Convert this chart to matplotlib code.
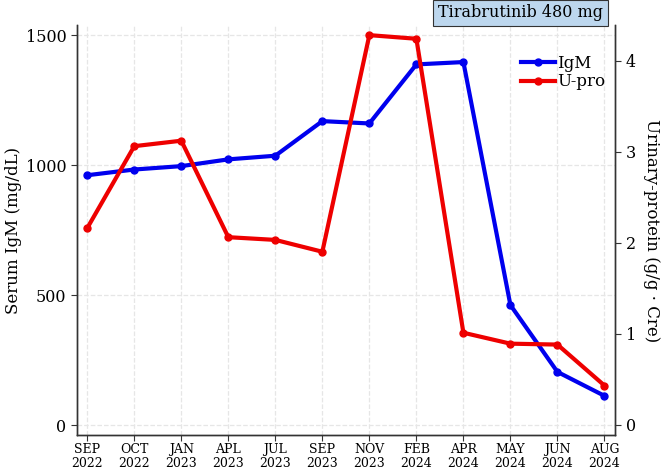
import matplotlib
matplotlib.use('Agg')
import matplotlib.pyplot as plt

plt.rcParams['font.family'] = ['DejaVu Serif']

# Данные с графика
months = ['SEP\n2022', 'OCT\n2022', 'JAN\n2023', 'APL\n2023', 'JUL\n2023', 'SEP\n2023',
          'NOV\n2023', 'FEB\n2024', 'APR\n2024', 'MAY\n2024', 'JUN\n2024', 'AUG\n2024']
igm = [961, 983, 996, 1022, 1036, 1169, 1160, 1387, 1396, 462, 205, 113]
upro = [2.16, 3.06, 3.12, 2.06, 2.03, 1.90, 4.28, 4.24, 1.01, 0.89, 0.88, 0.43]

x = list(range(len(months)))

fig = plt.figure(figsize=(6.63, 4.74), dpi=100)
ax = fig.add_axes([0.116, 0.082, 0.812, 0.865])
ax2 = ax.twinx()

l1, = ax.plot(x, igm, color='#0000ee', linewidth=3, marker='o', markersize=5, label='IgM', zorder=3)
l2, = ax2.plot(x, upro, color='#ee0000', linewidth=3, marker='o', markersize=5, label='U-pro', zorder=3)

ax.set_xlim(-0.22, 11.23)
ax.set_ylim(-38, 1538)
ax2.set_ylim(-0.115, 4.39)
ax.set_xticks(x)
ax.set_xticklabels(months, fontsize=9, linespacing=1.05)
ax.set_yticks([0, 500, 1000, 1500])
ax2.set_yticks([0, 1, 2, 3, 4])
ax.tick_params(axis='y', labelsize=11.5, length=4, color='#333333')
ax2.tick_params(axis='y', labelsize=11.5, length=4, color='#333333')
ax.tick_params(axis='x', length=4, color='#333333', pad=2)

ax.grid(True, linestyle='--', color='#e6e6e6', linewidth=0.9)
ax.set_axisbelow(True)

for a in (ax, ax2):
    a.spines['top'].set_visible(False)
    for s in ('left', 'right', 'bottom'):
        a.spines[s].set_color('#333333')
        a.spines[s].set_linewidth(1.0)

ax.set_ylabel('Serum IgM (mg/dL)', fontsize=12, labelpad=3)
ax2.set_ylabel('Urinary-protein (g/g · Cre)', fontsize=12, rotation=270, labelpad=17)

ax2.legend(handles=[l1, l2], loc='upper right', bbox_to_anchor=(1.0, 0.952), frameon=False,
           fontsize=12, handlelength=2.0, handletextpad=0.15, labelspacing=0.1, borderaxespad=0.2)

fig.text(0.785, 0.973, 'Tirabrutinib 480 mg', ha='center', va='center', fontsize=11.5,
         bbox=dict(boxstyle='square,pad=0.3', facecolor='#bdd7ee', edgecolor='#333333', linewidth=0.8))

plt.savefig('out.png', dpi=100)
